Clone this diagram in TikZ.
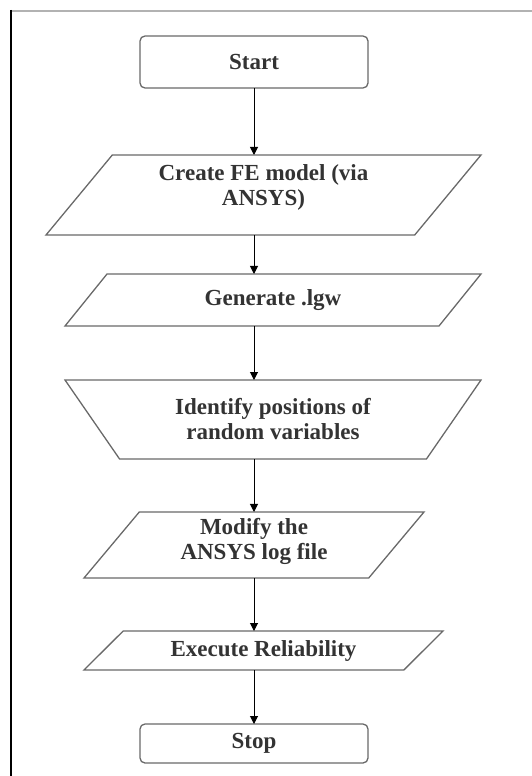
\documentclass[tikz,border=0pt]{standalone}
\usepackage{fontspec}
\setmainfont{Liberation Serif}
\usetikzlibrary{shapes.geometric, arrows.meta}
\definecolor{shapegray}{RGB}{105,105,105}

\begin{document}
\begin{tikzpicture}[
        x=1pt, y=-1pt,
        every node/.style={align=center, font=\fontsize{23}{25}\selectfont\bfseries, text=black!80, inner sep=0pt, outer sep=0pt},
        termbox/.style={rectangle, rounded corners=5pt, draw=shapegray, line width=1.3pt, minimum width=228pt},
        iobox/.style={trapezium, trapezium stretches body, draw=shapegray, line width=1.3pt},
        flow/.style={draw, -{Triangle[length=8pt, width=8pt]}, line width=1pt},
      ]
      \useasboundingbox (0,0) rectangle (532,776);
      % frame
      \draw[gray!60, line width=2pt] (11,11) -- (532,11);
      \draw[line width=1.5pt] (11,10) -- (11,776);

      \node[termbox, minimum height=52pt] (start) at (254,62) {Start};
      \node[iobox, trapezium left angle=42.6, trapezium right angle=137.4,
        minimum width=435pt, minimum height=80pt, text depth=20pt] (model) at (263.5,195) {Create FE model (via\\ ANSYS)};
      \node[iobox, trapezium left angle=26.6, trapezium right angle=153.4,
        minimum width=416pt, minimum height=52pt] (gen) at (273,300) {Generate .lgw};
      \node[iobox, trapezium left angle=142.8, trapezium right angle=142.8,
        minimum width=416pt, minimum height=79pt] (ident) at (273,419.5) {Identify positions of\\ random variables};
      \node[iobox, trapezium left angle=43.9, trapezium right angle=136.1,
        minimum width=340pt, minimum height=66pt, text depth=12pt] (modify) at (254,545) {Modify the\\ ANSYS log file};
      \node[iobox, trapezium left angle=28.1, trapezium right angle=151.9,
        minimum width=359pt, minimum height=39pt] (exec) at (263.5,650.5) {Execute Reliability};
      \node[termbox, minimum height=39pt] (stop) at (254,743.5) {Stop};

      \draw[flow] (start) -- (start |- model.north);
      \foreach \from/\to in {model/gen, gen/ident, ident/modify, modify/exec, exec/stop}
        \draw[flow] (start |- \from.south) -- (start |- \to.north);
\end{tikzpicture}
\end{document}
